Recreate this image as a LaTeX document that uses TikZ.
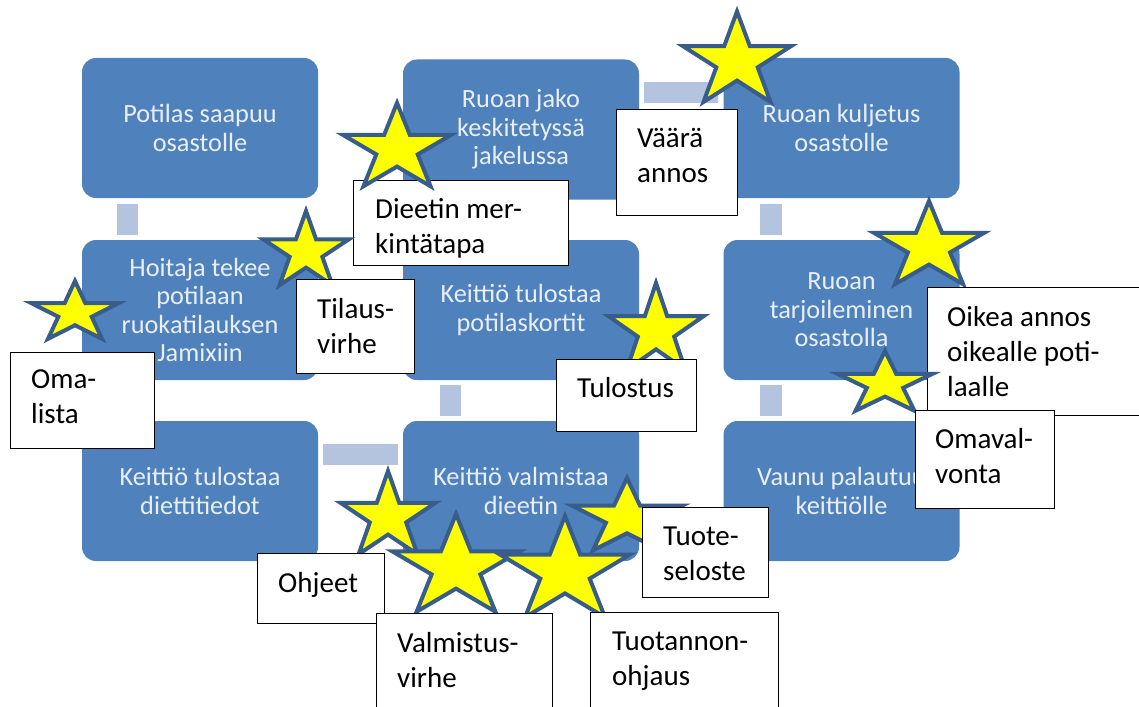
\documentclass[tikz,border=0pt]{standalone}
\usepackage{fontspec}
\setmainfont{Carlito}
\usetikzlibrary{calc}

\definecolor{boxblue}{RGB}{79,129,189}
\definecolor{boxtext}{RGB}{233,239,247}
\definecolor{linkblue}{RGB}{180,196,222}
\definecolor{starblue}{RGB}{56,93,138}
\definecolor{staryellow}{RGB}{255,255,0}

\tikzset{
  procbox/.style={fill=boxblue, rounded corners=14pt, minimum width=236pt,
    minimum height=140pt, inner sep=0pt, text=boxtext, align=center,
    font=\fontsize{26.3}{28.5}\selectfont},
  link/.style={fill=linkblue},
  starshape/.style={fill=staryellow, draw=starblue, line width=4pt,
    line join=miter, miter limit=10},
  calloutbox/.style={draw=black, fill=white, line width=1.4pt, inner sep=0pt},
  callouttext/.style={inner sep=0pt, align=left, text=black,
    font=\fontsize{29}{35.3}\selectfont},
}

% five-pointed star: centre x, centre y, horizontal radius, vertical radius
\newcommand\yellowstar[4]{%
  \filldraw[starshape] (#1,{#2-#4})
    \foreach \k in {1,...,9}{
      -- ({#1+(0.382+0.618*mod(\k+1,2))*#3*cos(90+36*\k)},
          {#2-(0.382+0.618*mod(\k+1,2))*#4*sin(90+36*\k)})
    } -- cycle;}

% framed note: name, left, top, right, bottom, text left, last baseline, text
\newcommand\note[8]{%
  \node[calloutbox, anchor=north west, minimum width={#4-#2},
    minimum height={#5-#3}] (#1) at (#2,#3) {};
  \node[callouttext, anchor=base west] (#1-text) at (#6,#7) {#8};}

\begin{document}
\begin{tikzpicture}[x=1pt, y=-1pt]
\useasboundingbox[fill=white] (0,0) rectangle (1139,706);

% process steps
\node[procbox] (potilas)   at (200,128)   {Potilas saapuu\\osastolle};
\node[procbox] (hoitaja)   at (200,310)   {Hoitaja tekee\\potilaan\\ruokatilauksen\\Jamixiin};
\node[procbox] (dietti)    at (200,491)   {Keittiö tulostaa\\diettitiedot};
\node[procbox] (valmistaa) at (521,491)   {Keittiö valmistaa\\dieetin};
\node[procbox] (kortit)    at (521,310)   {Keittiö tulostaa\\potilaskortit};
\node[procbox] (jako)      at (521,129.5) {Ruoan jako\\keskitetyssä\\jakelussa};
\node[procbox] (kuljetus)  at (841.5,128) {Ruoan kuljetus\\osastolle};
\node[procbox] (tarjoilu)  at (841.5,310) {Ruoan\\tarjoileminen\\osastolla};
\node[procbox] (vaunu)     at (841.5,491) {Vaunu palautuu\\keittiölle};

% links between consecutive steps
\fill[link] ($(potilas.south west)+(35,6)$) rectangle ($(hoitaja.north west)+(56,-5)$);
\fill[link] ($(hoitaja.south west)+(35,5)$) rectangle ($(dietti.north west)+(56,-5)$);
\fill[link] ($(dietti.north east)+(5,23)$) rectangle ($(valmistaa.north west)+(-5,44)$);
\fill[link] ($(kortit.south west)+(37,5)$) rectangle ($(valmistaa.north west)+(58,-5)$);
\fill[link] ($(jako.south west)+(37,6)$) rectangle ($(kortit.north west)+(58,-5)$);
\fill[link] ($(jako.north east)+(5,23)$) rectangle ($(kuljetus.north west)+(-5,45)$);
\fill[link] ($(kuljetus.south west)+(37,6)$) rectangle ($(tarjoilu.north west)+(59,-5)$);
\fill[link] ($(tarjoilu.south west)+(37,5)$) rectangle ($(vaunu.north west)+(59,-5)$);

% stars and notes
\yellowstar{737}{61.5}{57}{50}
\note{vaara}{616}{109}{737}{215}{637}{182.3}{Väärä\\annos}

\note{dieetin}{353}{180}{568}{265}{375}{253.3}{Dieetin mer-\\kintätapa}
\yellowstar{397}{149}{57}{46}

\yellowstar{306}{252}{45}{41}
\note{tilaus}{296}{279}{414}{373}{317}{353.3}{Tilaus-\\virhe}

\yellowstar{75}{313}{46}{32}
\note{omalista}{10}{352}{154}{448}{31}{423.3}{Oma-\\lista}

\yellowstar{656}{331}{50}{48}
\note{tulostus}{556}{359}{696}{431}{577}{397}{Tulostus}

\yellowstar{929}{247}{58}{46}
\note{oikea}{927}{287}{1150}{415}{947}{396.6}{Oikea annos\\oikealle poti-\\laalle}

\yellowstar{885}{384}{50}{33}
\note{omaval}{915}{410}{1054}{508}{935}{483.3}{Omaval-\\vonta}

\yellowstar{388}{517}{50}{46}
\yellowstar{627}{518}{58}{40}
\yellowstar{456}{568}{67}{54}
\yellowstar{565}{572}{68}{56}
\note{ohjeet}{257}{553}{384}{623}{278}{592}{Ohjeet}
\note{tuote}{642}{507}{768}{597}{663}{580.3}{Tuote-\\seloste}
\note{valmistus}{376}{613}{552}{720}{397}{687.3}{Valmistus-\\virhe}
\note{tuotannon}{590}{612}{778}{720}{612}{685.3}{Tuotannon-\\ohjaus}
\end{tikzpicture}
\end{document}
